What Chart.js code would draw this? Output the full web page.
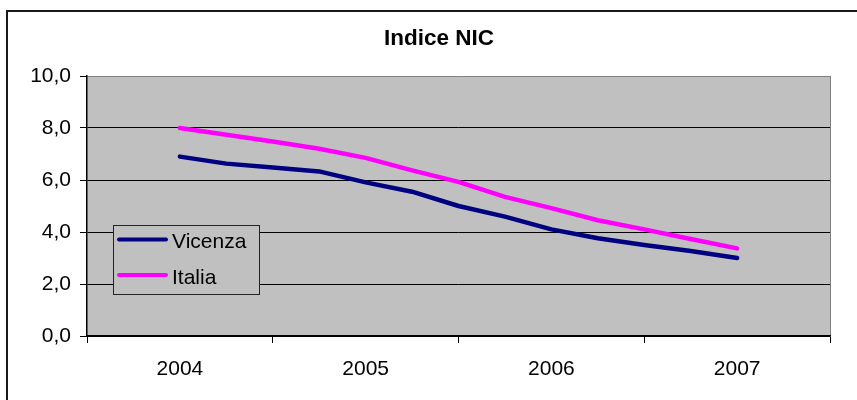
<!DOCTYPE html>
<html>
<head>
<meta charset="utf-8">
<script src="https://cdn.jsdelivr.net/npm/chart.js@4/dist/chart.umd.min.js"></script>
<style>
  html, body { margin: 0; padding: 0; background: #fff; }
  canvas { display: block; }
</style>
</head>
<body>
<canvas id="chart" width="857" height="400"></canvas>
<script>
// dati trimestrali
const periodi = [2004, 2004.25, 2004.5, 2004.75, 2005, 2005.25, 2005.5, 2005.75, 2006, 2006.25, 2006.5, 2006.75, 2007];
const vicenza = [6.9, 6.63, 6.48, 6.33, 5.91, 5.55, 5.0, 4.59, 4.1, 3.76, 3.5, 3.27, 3.0];
const italia = [8.0, 7.74, 7.48, 7.2, 6.85, 6.37, 5.93, 5.35, 4.92, 4.45, 4.1, 3.73, 3.37];
const anni = [2004, 2005, 2006, 2007];
const yTicks = [0, 2, 4, 6, 8, 10];
const titolo = 'Indice NIC';

const FONT = "'Liberation Sans', Arial, sans-serif";

function toPoints(values) {
    return values.map((v, i) => ({ x: periodi[i], y: v }));
}

// sfondo grigio dell'area del grafico, cornice esterna e titolo
const background = {
    id: 'background',
    beforeDraw(chart) {
        const { ctx, chartArea: a } = chart;
        ctx.save();
        ctx.fillStyle = '#C0C0C0';
        ctx.fillRect(a.left, a.top, a.right - a.left, a.bottom - a.top);
        ctx.strokeStyle = '#1a1a1a';
        ctx.lineWidth = 2;
        ctx.beginPath();
        ctx.moveTo(7, 400);
        ctx.lineTo(7, 11);
        ctx.lineTo(857, 11);
        ctx.stroke();
        // titolo centrato sulla cornice intera (che esce dall'immagine a destra)
        ctx.fillStyle = '#000';
        ctx.font = 'bold 22.5px ' + FONT;
        ctx.textAlign = 'center';
        ctx.textBaseline = 'middle';
        ctx.fillText(titolo, 439, 39);
        ctx.restore();
    }
};

// legenda dentro l'area del grafico, come in Excel
const boxLegend = {
    id: 'boxLegend',
    afterDraw(chart) {
        const ctx = chart.ctx;
        const x = 113.5, y = 225.5, w = 146, h = 69;
        ctx.save();
        ctx.fillStyle = '#C0C0C0';
        ctx.fillRect(x, y, w, h);
        ctx.strokeStyle = '#222';
        ctx.lineWidth = 1;
        ctx.strokeRect(x, y, w, h);
        ctx.font = '21px ' + FONT;
        ctx.textBaseline = 'middle';
        ctx.fillStyle = '#000';
        chart.data.datasets.forEach((ds, i) => {
            const ly = 239.5 + i * 35.5;
            ctx.strokeStyle = ds.borderColor;
            ctx.lineWidth = 4;
            ctx.lineCap = 'round';
            ctx.beginPath();
            ctx.moveTo(119, ly);
            ctx.lineTo(166, ly);
            ctx.stroke();
            ctx.fillText(ds.label, 172, ly + 3);
        });
        ctx.restore();
    }
};

const config = {
    type: 'line',
    data: {
        datasets: [{
            label: 'Vicenza',
            data: toPoints(vicenza),
            borderColor: '#000080',
            backgroundColor: '#000080',
            borderWidth: 4.5,
            pointRadius: 0,
            tension: 0,
            borderCapStyle: 'round',
            borderJoinStyle: 'round'
        }, {
            label: 'Italia',
            data: toPoints(italia),
            borderColor: '#FF00FF',
            backgroundColor: '#FF00FF',
            borderWidth: 4.5,
            pointRadius: 0,
            tension: 0,
            borderCapStyle: 'round',
            borderJoinStyle: 'round'
        }]
    },
    options: {
        responsive: false,
        animation: false,
        devicePixelRatio: 1,
        layout: { padding: { left: 0, right: 27, top: 76, bottom: 0 } },
        plugins: {
            legend: { display: false },
            tooltip: { enabled: false },
            title: { display: false }
        },
        scales: {
            x: {
                type: 'linear',
                min: anni[0] - 0.5,
                max: anni[anni.length - 1] + 0.5,
                afterBuildTicks(scale) {
                    const t = [anni[0] - 0.5];
                    anni.forEach(a => { t.push(a); t.push(a + 0.5); });
                    scale.ticks = t.map(v => ({ value: v }));
                },
                afterFit(scale) { scale.height = 64; },
                ticks: {
                    autoSkip: false,
                    maxRotation: 0,
                    padding: 14,
                    color: '#000',
                    font: { family: FONT, size: 21 },
                    callback: v => Number.isInteger(v) ? String(v) : ''
                },
                grid: {
                    drawOnChartArea: true,
                    tickLength: 7,
                    color: ctx => (ctx.tick && ctx.tick.value === anni[anni.length - 1] + 0.5) ? '#808080' : 'rgba(0,0,0,0)',
                    tickColor: ctx => (ctx.tick && Number.isInteger(ctx.tick.value)) ? 'rgba(0,0,0,0)' : '#000'
                },
                border: { color: '#000', width: 1.5 }
            },
            y: {
                min: 0,
                max: 10,
                afterBuildTicks(scale) {
                    scale.ticks = yTicks.map(v => ({ value: v }));
                },
                afterFit(scale) { scale.width = 87; },
                ticks: {
                    padding: 9,
                    color: '#000',
                    font: { family: FONT, size: 21 },
                    callback: v => v.toFixed(1).replace('.', ',')
                },
                grid: {
                    tickLength: 7,
                    color: ctx => (ctx.tick && ctx.tick.value === 10) ? '#808080' : '#000',
                    tickColor: '#000'
                },
                border: { color: '#000', width: 1.5 }
            }
        }
    },
    plugins: [background, boxLegend]
};

const myChart = new Chart(document.getElementById('chart'), config);
</script>
</body>
</html>
